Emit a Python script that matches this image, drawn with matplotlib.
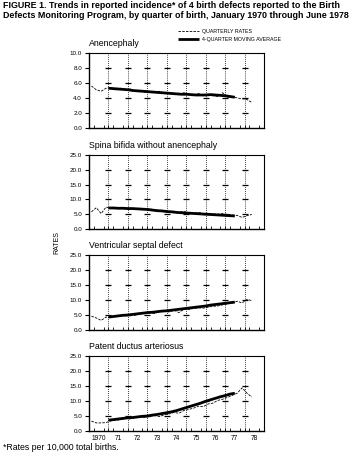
import numpy as np
import pandas as pd
import matplotlib
matplotlib.use("Agg")
import matplotlib.pyplot as plt

plt.rcParams["font.family"] = ["Liberation Sans", "DejaVu Sans"]

# quarterly rates per 10,000 births, 1970Q1 .. 1978Q2
quarters = pd.period_range("1970Q1", "1978Q2", freq="Q")
# 4-quarter moving average, plotted at quarter boundaries 1971Q1 .. 1977Q3
ma_quarters = pd.period_range("1971Q1", "1977Q3", freq="Q")

anen_q = [5.6, 5.1, 4.9, 5.3, 5.4, 5.1, 5.3, 5.0, 5.2, 4.9, 5.0, 4.8,
          4.9, 4.7, 4.9, 4.6, 4.7, 4.6, 4.5, 4.7, 4.5, 4.4, 4.6, 4.3,
          4.4, 4.3, 4.2, 4.7, 4.1, 4.2, 4.0, 3.9, 3.8, 3.4]
anen_ma = [5.3, 5.25, 5.2, 5.15, 5.1, 5.0, 4.95, 4.9, 4.85, 4.8, 4.75, 4.7,
           4.65, 4.6, 4.55, 4.5, 4.5, 4.45, 4.4, 4.4, 4.4, 4.45, 4.4, 4.35,
           4.3, 4.2, 4.1]

sb_q = [5.8, 7.2, 5.2, 7.4, 7.0, 7.3, 6.9, 7.1, 7.0, 6.8, 7.0, 6.6,
        6.8, 6.4, 6.2, 6.3, 5.9, 6.0, 5.6, 5.9, 5.5, 5.3, 5.6, 5.2,
        5.3, 5.1, 5.0, 5.2, 4.9, 4.7, 4.6, 3.9, 4.5, 4.9]
sb_ma = [7.1, 7.1, 7.0, 7.0, 6.9, 6.9, 6.8, 6.7, 6.6, 6.4, 6.2, 6.1,
         5.9, 5.8, 5.6, 5.5, 5.4, 5.3, 5.2, 5.1, 5.0, 4.9, 4.8, 4.7,
         4.6, 4.5, 4.4]

vsd_q = [4.6, 4.0, 3.2, 4.3, 4.2, 4.6, 4.9, 4.7, 5.1, 4.9, 5.4, 5.6,
         5.8, 5.5, 6.1, 6.3, 6.0, 6.6, 5.8, 6.9, 6.8, 7.2, 7.4, 7.3,
         7.6, 7.9, 8.0, 8.4, 8.7, 9.0, 9.6, 9.0, 10.2, 9.8]
vsd_ma = [4.3, 4.5, 4.7, 4.9, 5.0, 5.2, 5.4, 5.6, 5.8, 5.9, 6.1, 6.3,
          6.4, 6.6, 6.8, 7.0, 7.2, 7.4, 7.6, 7.8, 8.0, 8.3, 8.5, 8.7,
          8.9, 9.1, 9.3]

pda_q = [3.3, 2.7, 2.7, 2.8, 3.4, 3.6, 3.8, 4.2, 4.0, 4.4, 4.6, 4.5,
         4.9, 5.1, 4.8, 5.4, 5.7, 6.2, 5.9, 6.8, 7.2, 7.6, 8.3, 8.1,
         9.0, 9.3, 10.2, 10.6, 11.2, 11.9, 12.6, 14.4, 12.6, 11.3]
pda_ma = [3.6, 3.8, 4.0, 4.2, 4.4, 4.5, 4.7, 4.9, 5.0, 5.3, 5.5, 5.8,
          6.1, 6.4, 6.8, 7.3, 7.8, 8.3, 8.8, 9.3, 9.9, 10.4, 10.9, 11.4,
          11.8, 12.3, 12.6]

titles = ["Anencephaly", "Spina bifida without anencephaly",
          "Ventricular septal defect", "Patent ductus arteriosus"]
q_series = [anen_q, sb_q, vsd_q, pda_q]
ma_series = [anen_ma, sb_ma, vsd_ma, pda_ma]
y_maxes = [10, 25, 25, 25]
y_steps = [2, 5, 5, 5]
year_labels = ["1970", "71", "72", "73", "74", "75", "76", "77", "78"]

x_q = quarters.year + (quarters.quarter - 0.5) / 4
x_ma = ma_quarters.year + (ma_quarters.quarter - 1) / 4
years = np.arange(1970, 1979)

fig = plt.figure(figsize=(3.51, 4.58), dpi=100)

# axes boxes in pixels (top, bottom)
boxes = [(53, 128), (155, 229), (255, 330), (356, 431)]
W, H = 351, 458

for i, (top, bot) in enumerate(boxes):
    ax = fig.add_axes([89 / W, 1 - bot / H, 175 / W, (bot - top) / H])
    yt = np.arange(0, y_maxes[i] + 0.1, y_steps[i])

    # grid: dotted verticals at year boundaries with dashes at tick levels
    for yb in years[1:]:
        ax.axvline(yb, color="black", lw=0.6, ls=(0, (1, 1.5)), zorder=1)
    gx, gy = np.meshgrid(years[1:], yt[1:-1])
    ax.plot(gx.ravel(), gy.ravel(), ls="none", marker="_", ms=4,
            mew=0.9, color="black", zorder=1)

    l1, = ax.plot(x_q, q_series[i], color="black", lw=0.6,
                  ls=(0, (3, 1.5)), label="QUARTERLY RATES", zorder=3)
    l2, = ax.plot(x_ma, ma_series[i], color="black", lw=2.0,
                  solid_capstyle="butt", label="4-QUARTER MOVING AVERAGE",
                  zorder=4)

    ax.set_xlim(1970, 1979)
    ax.set_ylim(0, y_maxes[i])
    ax.set_yticks(yt)
    ax.set_yticklabels([f"{v:.1f}" for v in yt], fontsize=4.5)
    ax.tick_params(axis="y", length=3, width=0.8, pad=2)
    ax.set_xticks(years + 0.5)
    ax.set_xticks(np.arange(1970, 1979.01, 0.25), minor=True)
    ax.tick_params(axis="x", which="major", length=0, pad=3)
    ax.tick_params(axis="x", which="minor", direction="in", length=2,
                   width=0.6)
    if i == 3:
        ax.set_xticklabels(year_labels, fontsize=4.8)
    else:
        ax.set_xticklabels([])
    for side in ["left", "bottom"]:
        ax.spines[side].set_linewidth(1.0)
    for side in ["top", "right"]:
        ax.spines[side].set_linewidth(0.8)

    ax.text(0.0, 1.07, titles[i], transform=ax.transAxes, fontsize=6.3,
            ha="left", va="bottom")

    if i == 0:
        handles = [l1, l2]

fig.legend(handles=handles, loc="upper left",
           bbox_to_anchor=(178 / W, 1 - 29 / H), frameon=False,
           fontsize=3.8, handlelength=4, handletextpad=0.6,
           labelspacing=0.5, borderaxespad=0, borderpad=0)

fig.text(3 / W, 1 - 1 / H,
         "FIGURE 1. Trends in reported incidence* of 4 birth defects reported to the Birth\n"
         "Defects Monitoring Program, by quarter of birth, January 1970 through June 1978",
         fontsize=6.4, fontweight="bold", ha="left", va="top", linespacing=1.15)

fig.text(57 / W, 1 - 243 / H, "RATES", rotation=90, fontsize=5,
         ha="center", va="center")

fig.text(3 / W, 1 - 448 / H, "*Rates per 10,000 total births.",
         fontsize=6.3, ha="left", va="center")

fig.savefig("out.png", dpi=100)
